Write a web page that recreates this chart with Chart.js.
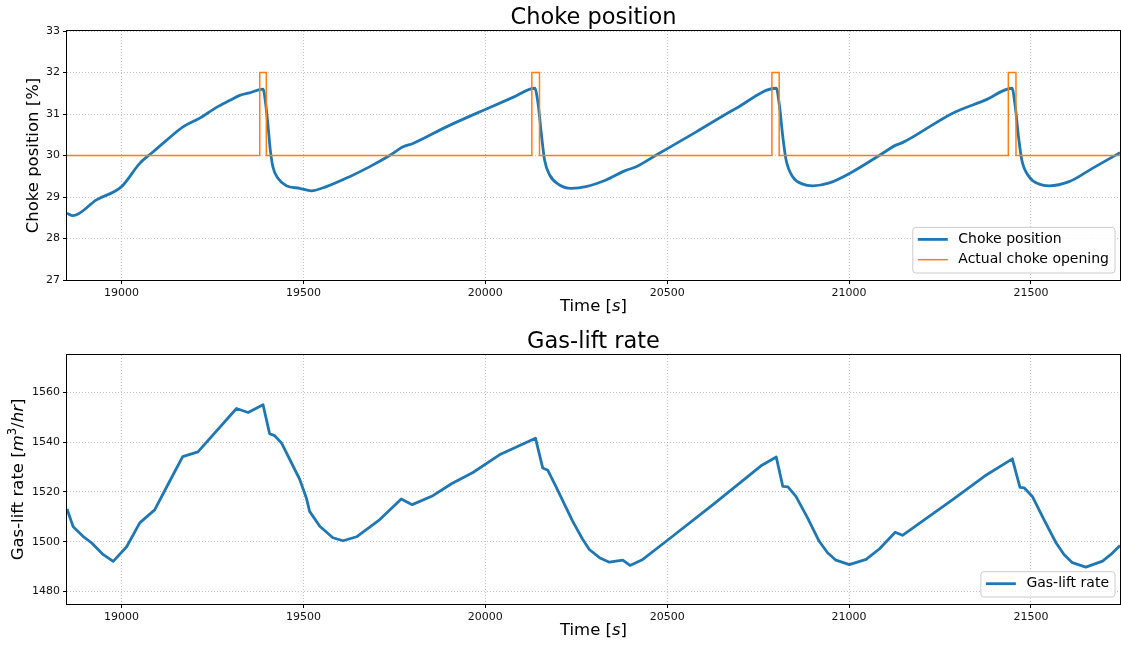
<!DOCTYPE html>
<html>
<head>
<meta charset="utf-8">
<title>Choke position and gas-lift rate</title>
<script src="https://cdn.jsdelivr.net/npm/chart.js@4.4.0/dist/chart.umd.min.js"></script>
<style>
  html, body { margin: 0; padding: 0; background: #fff; }
  #wrap { position: relative; width: 1121px; height: 646px; }
  #wrap canvas { position: absolute; left: 0; }
  #chokeChart { top: 0; }
  #gasChart { top: 323px; }
</style>
</head>
<body>
<div id="wrap">
  <canvas id="chokeChart" width="1121" height="323"></canvas>
  <canvas id="gasChart" width="1121" height="323"></canvas>
</div>
<script>
// Choke position [%] vs time [s]
const chokeTime = [18850, 18866, 18931, 19000, 19050, 19087, 19124, 19169, 19215, 19261, 19298, 19325, 19352, 19389,
  19396, 19403, 19409, 19416, 19430, 19453, 19490, 19522, 19563, 19627, 19680, 19737, 19774, 19801, 19893, 20000,
  20076, 20136, 20145, 20154, 20163, 20177, 20204, 20236, 20277, 20332, 20383, 20415, 20470, 20580, 20690, 20800,
  20809, 20818, 20827, 20845, 20873, 20900, 20946, 21010, 21083, 21129, 21147, 21285, 21376, 21448,
  21457, 21466, 21475, 21495, 21523, 21550, 21605, 21669, 21745];
const chokePos = [28.61, 28.55, 28.93, 29.25, 29.81, 30.09, 30.37, 30.69, 30.90, 31.16, 31.33, 31.45, 31.51, 31.60,
  31.26, 30.69, 30.13, 29.73, 29.45, 29.27, 29.21, 29.15, 29.25, 29.49, 29.72, 30.00, 30.21, 30.29, 30.69, 31.11,
  31.40, 31.62, 31.26, 30.53, 29.89, 29.53, 29.29, 29.21, 29.25, 29.41, 29.63, 29.73, 30.01, 30.57, 31.14, 31.62,
  31.18, 30.45, 29.89, 29.49, 29.31, 29.27, 29.34, 29.61, 30.00, 30.25, 30.31, 31.02, 31.34, 31.62,
  31.18, 30.45, 29.89, 29.49, 29.31, 29.27, 29.37, 29.69, 30.07];

// Actual choke opening: 30 % with short 32 % pulses
const actualTime = [18850, 19380, 19380, 19398, 19398, 20128, 20128, 20149, 20149, 20788, 20788, 20808, 20808,
  21438, 21438, 21459, 21459, 21745];
const actualOpen = [30, 30, 32, 32, 30, 30, 32, 32, 30, 30, 32, 32, 30, 30, 32, 32, 30, 30];

// Gas-lift rate [m3/hr] vs time [s]
const gasTime = [18850, 18867, 18894, 18918, 18949, 18977, 19014, 19050, 19091, 19133, 19168, 19210, 19316, 19348,
  19389, 19407, 19421, 19440, 19490, 19508, 19517, 19545, 19581, 19609, 19646, 19710, 19769, 19799, 19856, 19907,
  19966, 20039, 20138, 20158, 20172, 20194, 20240, 20268, 20286, 20314, 20341, 20378, 20398, 20433, 20500, 20626,
  20758, 20800, 20818, 20832, 20854, 20886, 20918, 20941, 20964, 21001, 21047, 21084, 21127, 21147, 21285, 21372,
  21449, 21470, 21482, 21504, 21536, 21569, 21591, 21614, 21651, 21697, 21720, 21745];
const gasRate = [1513.2, 1506.0, 1502.2, 1499.5, 1494.9, 1492.1, 1498.0, 1507.6, 1512.8, 1524.5, 1534.2, 1536.1, 1553.5, 1551.9,
  1555.0, 1543.4, 1542.6, 1539.6, 1525.0, 1517.6, 1512.2, 1506.2, 1501.6, 1500.4, 1502.0, 1508.9, 1517.2, 1514.9, 1518.5, 1523.3,
  1527.8, 1534.9, 1541.6, 1529.6, 1528.7, 1522.2, 1508.3, 1500.9, 1496.9, 1493.6, 1491.8, 1492.6, 1490.5, 1492.9, 1500.5, 1514.9,
  1530.5, 1534.0, 1522.2, 1522.0, 1518.2, 1509.6, 1500.2, 1495.6, 1492.6, 1490.8, 1492.9, 1497.2, 1503.8, 1502.6, 1516.9, 1526.3,
  1533.3, 1521.8, 1521.6, 1518.2, 1508.9, 1499.6, 1494.9, 1491.6, 1489.8, 1492.2, 1494.9, 1498.5];

const timeTicks = [19000, 19500, 20000, 20500, 21000, 21500];
const chokeTicks = [27, 28, 29, 30, 31, 32, 33];
const gasTicks = [1480, 1500, 1520, 1540, 1560];

const FONT = '"DejaVu Sans"';

function toPoints(xs, ys) {
  return xs.map((x, i) => ({ x: x, y: ys[i] }));
}

// text with italic / superscript pieces (mathtext-like labels)
function partFont(p, size) {
  const s = p.sup ? size * 0.7 : size;
  return (p.italic ? 'italic ' : '') + s + 'px ' + FONT;
}
function drawRich(ctx, parts, size, cx, cy, angle) {
  ctx.save();
  ctx.translate(cx, cy);
  ctx.rotate(angle || 0);
  ctx.textBaseline = 'middle';
  ctx.textAlign = 'left';
  ctx.fillStyle = '#000';
  let w = 0;
  parts.forEach(p => { ctx.font = partFont(p, size); w += ctx.measureText(p.text).width; });
  let x = -w / 2;
  parts.forEach(p => {
    ctx.font = partFont(p, size);
    ctx.fillText(p.text, x, p.sup ? -size * 0.38 : 0);
    x += ctx.measureText(p.text).width;
  });
  ctx.restore();
}

// frame, title and axis titles
const frameText = {
  id: 'frameText',
  afterDraw(chart, args, opts) {
    const ctx = chart.ctx, a = chart.chartArea;
    ctx.save();
    ctx.strokeStyle = '#000';
    ctx.lineWidth = 1;
    ctx.strokeRect(Math.round(a.left) - 0.5, Math.round(a.top) - 0.5,
      Math.round(a.right - a.left) + 1, Math.round(a.bottom - a.top) + 1);
    ctx.restore();
    const cx = (a.left + a.right) / 2;
    drawRich(ctx, [{ text: opts.title }], 22.5, cx, a.top - 13);
    drawRich(ctx, [{ text: 'Time [' }, { text: 's', italic: true }, { text: ']' }], 16.5, cx, a.bottom + 26.5);
    drawRich(ctx, opts.yLabel, 16.5, opts.yLabelX, (a.top + a.bottom) / 2, -Math.PI / 2);
  }
};

// legend box in the lower right corner of the plot
const boxLegend = {
  id: 'boxLegend',
  afterDatasetsDraw(chart) {
    const ctx = chart.ctx, a = chart.chartArea;
    const items = chart.data.datasets;
    ctx.save();
    ctx.font = '14px ' + FONT;
    const textW = Math.max(...items.map(d => ctx.measureText(d.label).width));
    const rowH = 20.3;
    const w = 5 + 30 + 10.5 + textW + 6;
    const h = items.length * rowH + 5;
    const x = a.right - 5 - w, y = a.bottom - 7 - h;
    ctx.beginPath();
    ctx.roundRect(x, y, w, h, 3);
    ctx.fillStyle = 'rgba(255,255,255,0.8)';
    ctx.fill();
    ctx.strokeStyle = '#cccccc';
    ctx.lineWidth = 1;
    ctx.stroke();
    items.forEach((d, i) => {
      const ry = y + 12 + i * rowH;
      ctx.strokeStyle = d.borderColor;
      ctx.lineWidth = d.borderWidth;
      ctx.beginPath();
      ctx.moveTo(x + 5, ry);
      ctx.lineTo(x + 35, ry);
      ctx.stroke();
      ctx.fillStyle = '#000';
      ctx.textBaseline = 'middle';
      ctx.textAlign = 'left';
      ctx.fillText(d.label, x + 45.5, ry);
    });
    ctx.restore();
  }
};

function axis(min, max, tickValues, extra) {
  return Object.assign({
    type: 'linear',
    min: min,
    max: max,
    afterBuildTicks: s => { s.ticks = tickValues.map(v => ({ value: v })); },
    grid: { color: '#b0b0b0', lineWidth: 0.8, tickColor: '#000', tickLength: 4, tickWidth: 1 },
    border: { display: false, dash: [1, 2] },
    ticks: { color: '#111', padding: 3, font: { family: 'DejaVu Sans', size: 11 }, callback: v => String(v) }
  }, extra);
}

function makeChart(id, datasets, yMin, yMax, yTicks, padTop, xHeight, title, yLabel, yLabelX) {
  return new Chart(document.getElementById(id), {
    type: 'line',
    data: { datasets: datasets },
    options: {
      responsive: false,
      animation: false,
      layout: { padding: { top: padTop, right: 1, left: 0, bottom: 0 } },
      scales: {
        x: axis(18850, 21745, timeTicks, { afterFit: s => { s.height = xHeight; } }),
        y: axis(yMin, yMax, yTicks, { afterFit: s => { s.width = 67; } })
      },
      plugins: {
        legend: { display: false },
        tooltip: { enabled: false },
        title: { display: false },
        frameText: { title: title, yLabel: yLabel, yLabelX: yLabelX }
      }
    },
    plugins: [boxLegend, frameText]
  });
}

makeChart('chokeChart', [
  {
    label: 'Choke position',
    data: toPoints(chokeTime, chokePos),
    borderColor: '#1f77b4',
    borderWidth: 2.8,
    pointRadius: 0,
    cubicInterpolationMode: 'monotone',
    order: 1
  },
  {
    label: 'Actual choke opening',
    data: toPoints(actualTime, actualOpen),
    borderColor: '#ff7f0e',
    borderWidth: 1.5,
    pointRadius: 0,
    tension: 0,
    order: 0
  }
], 27, 33, chokeTicks, 31, 43, 'Choke position', [{ text: 'Choke position [%]' }], 34);

makeChart('gasChart', [
  {
    label: 'Gas-lift rate',
    data: toPoints(gasTime, gasRate),
    borderColor: '#1f77b4',
    borderWidth: 2.8,
    pointRadius: 0,
    tension: 0,
    borderJoinStyle: 'round'
  }
], 1475, 1575, gasTicks, 32, 42, 'Gas-lift rate',
  [{ text: 'Gas-lift rate [' }, { text: 'm', italic: true }, { text: '3', sup: true }, { text: '/' }, { text: 'hr', italic: true }, { text: ']' }], 19);
</script>
</body>
</html>
